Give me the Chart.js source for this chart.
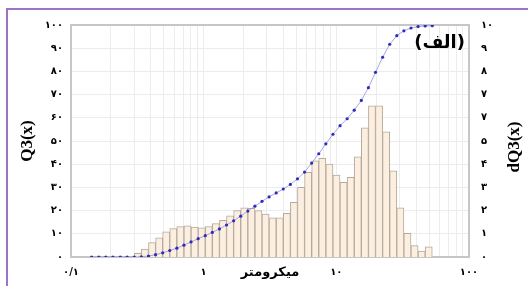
<!DOCTYPE html>
<html>
<head>
<meta charset="utf-8">
<script src="https://cdn.jsdelivr.net/npm/chart.js@4.4.1/dist/chart.umd.min.js"></script>
<style>
  html, body { margin: 0; padding: 0; background: #fff; }
  #wrap { position: relative; width: 528px; height: 286px; overflow: hidden; }
  #frame { position: absolute; left: 6px; top: 8px; width: 600px; height: 400px;
           border-left: 2px solid #9c73c8; border-top: 2px solid #9c73c8; }
  #chart { position: absolute; left: 0; top: 0; }
</style>
</head>
<body>
<div id="wrap">
  <div id="frame"></div>
  <canvas id="chart" width="528" height="286"></canvas>
</div>
<script>
// particle size class edges (micrometre)
const binEdges = [0.143, 0.162, 0.183, 0.207, 0.235, 0.265, 0.300, 0.339, 0.384, 0.434,
  0.491, 0.555, 0.628, 0.710, 0.803, 0.909, 1.028, 1.162, 1.315, 1.487,
  1.682, 1.902, 2.152, 2.434, 2.753, 3.113, 3.521, 3.983, 4.504, 5.095,
  5.762, 6.517, 7.371, 8.337, 9.430, 10.666, 12.063, 13.644, 15.432, 17.454,
  19.741, 22.328, 25.254, 28.563, 32.306, 36.540, 41.328, 46.744, 52.869];

// Q3(x) cumulative %, one value per edge
const q3Values = [0, 0, 0, 0, 0, 0, 0, 0.1, 0.4, 1.0,
  1.8, 2.8, 3.8, 5.1, 6.5, 7.9, 9.2, 10.6, 12.1, 13.8,
  15.6, 17.6, 19.8, 21.9, 24.0, 25.9, 27.6, 29.3, 31.3, 33.7,
  36.6, 40.5, 44.5, 48.8, 52.9, 56.6, 59.6, 63.3, 67.5, 73.0,
  79.6, 86.1, 91.7, 95.4, 97.5, 98.7, 99.3, 99.6, 99.7];

// dQ3(x), one value per class starting at edge 0.300
const firstBarEdge = 6;
const dq3Values = [0.16, 0.34, 0.62, 0.83, 1.08, 1.22, 1.31, 1.34, 1.29, 1.26,
  1.31, 1.44, 1.58, 1.77, 2.00, 2.12, 2.10, 2.00, 1.85, 1.69,
  1.69, 1.88, 2.36, 3.00, 3.65, 4.14, 4.25, 4.00, 3.53, 3.22,
  3.43, 4.32, 5.57, 6.52, 6.52, 5.40, 3.71, 2.12, 1.02, 0.49,
  0.26, 0.44];

const xTickValues = [0.1, 1, 10, 100];
const xTickLabels = ['۰/۱', '۱', '۱۰', '۱۰۰'];
const yTickLabels = ['۰', '۱۰', '۲۰', '۳۰', '۴۰', '۵۰', '۶۰', '۷۰', '۸۰', '۹۰', '۱۰۰'];
const y2TickLabels = ['۰', '۱', '۲', '۳', '۴', '۵', '۷', '۷', '۸', '۹', '۱۰'];

const xTitle = 'میکرومتر';
const yTitle = 'Q3(x)';
const y2Title = 'dQ3(x)';
const panelLabel = '(الف)';

const linePoints = binEdges.map((e, i) => ({ x: e, y: q3Values[i] }));
const barPoints = dq3Values.map((v, i) => ({
  x: Math.sqrt(binEdges[firstBarEdge + i] * binEdges[firstBarEdge + i + 1]),
  y: v
}));

const tickFont = { family: 'DejaVu Sans', size: 10, weight: 'bold' };

const extras = {
  id: 'extras',
  beforeDatasetsDraw(chart) {
    const { ctx, chartArea: a } = chart;
    ctx.save();
    ctx.strokeStyle = '#c6c6c6';
    ctx.lineWidth = 2;
    ctx.strokeRect(a.left, a.top, a.right - a.left, a.bottom - a.top);
    ctx.restore();
  },
  afterDraw(chart) {
    const { ctx, chartArea: a } = chart;
    ctx.save();
    ctx.fillStyle = '#000';
    ctx.font = 'bold 17px "Liberation Serif"';
    ctx.textAlign = 'center';
    ctx.textBaseline = 'middle';
    ctx.translate(515, (a.top + a.bottom) / 2 + 6);
    ctx.rotate(-Math.PI / 2);
    ctx.fillText(y2Title, 0, 0);
    ctx.restore();

    ctx.save();
    ctx.fillStyle = '#000';
    ctx.font = 'bold 18px "DejaVu Sans"';
    ctx.textAlign = 'right';
    ctx.textBaseline = 'middle';
    ctx.fillText(panelLabel, a.right - 4, a.top + 18);
    ctx.restore();
  }
};

new Chart(document.getElementById('chart'), {
  type: 'line',
  data: {
    datasets: [
      {
        type: 'line',
        data: linePoints,
        xAxisID: 'x',
        yAxisID: 'y',
        borderColor: 'rgba(130,130,225,0.7)',
        borderWidth: 1,
        pointRadius: 1.6,
        pointBackgroundColor: '#2d2db8',
        pointBorderColor: '#2d2db8',
        pointBorderWidth: 0,
        fill: false,
        order: 0
      },
      {
        type: 'bar',
        data: barPoints,
        xAxisID: 'x',
        yAxisID: 'y2',
        backgroundColor: '#fdefdf',
        borderColor: '#b3aaa0',
        borderWidth: 1,
        barThickness: 'flex',
        barPercentage: 1,
        categoryPercentage: 1,
        order: 1
      }
    ]
  },
  options: {
    responsive: false,
    animation: false,
    layout: { padding: { top: 25, left: 0, right: 0, bottom: 0 } },
    plugins: { legend: { display: false }, tooltip: { enabled: false } },
    scales: {
      x: {
        type: 'logarithmic',
        min: 0.1,
        max: 100,
        offset: false,
        afterFit: (s) => { s.height = 29; },
        afterBuildTicks: (s) => {
          s.ticks = s.ticks.filter(t => {
            const m = t.value / Math.pow(10, Math.floor(Math.log10(t.value) + 1e-9));
            return Math.abs(m - 1.5) > 0.01;
          });
        },
        grid: { color: '#ececec', drawTicks: false, offset: false },
        border: { display: false },
        ticks: {
          autoSkip: false,
          maxRotation: 0,
          padding: 9,
          color: '#000',
          font: tickFont,
          callback: (v) => {
            const i = xTickValues.findIndex(t => Math.abs(Math.log10(t) - Math.log10(v)) < 1e-6);
            return i >= 0 ? xTickLabels[i] : '';
          }
        },
        title: {
          display: true,
          text: xTitle,
          color: '#000',
          font: { family: 'DejaVu Sans', size: 13, weight: 'bold' },
          padding: { top: 0, bottom: 6 }
        }
      },
      y: {
        position: 'left',
        min: 0,
        max: 100,
        afterFit: (s) => { s.width = 71; },
        grid: { color: '#ececec', drawTicks: false },
        border: { display: false },
        ticks: {
          stepSize: 10,
          padding: 8,
          color: '#000',
          font: tickFont,
          callback: (v) => yTickLabels[Math.round(v / 10)]
        },
        title: {
          display: true,
          text: yTitle,
          color: '#000',
          font: { family: 'Liberation Serif', size: 17, weight: 'bold' },
          padding: { top: 17, bottom: 0 }
        }
      },
      y2: {
        position: 'right',
        min: 0,
        max: 10,
        afterFit: (s) => { s.width = 59; },
        grid: { display: false, drawTicks: false },
        border: { display: false },
        ticks: {
          stepSize: 1,
          padding: 12,
          color: '#000',
          font: tickFont,
          callback: (v) => y2TickLabels[Math.round(v)]
        }
      }
    }
  },
  plugins: [extras]
});
</script>
</body>
</html>
